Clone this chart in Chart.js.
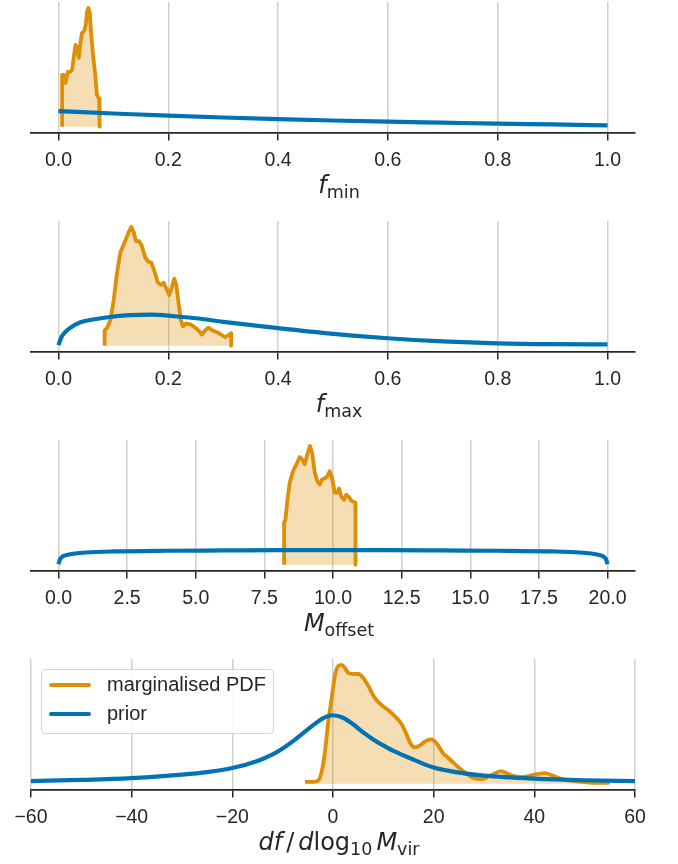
<!DOCTYPE html>
<html>
<head>
<meta charset="utf-8">
<script src="https://cdn.jsdelivr.net/npm/chart.js@4.4.1/dist/chart.umd.min.js"></script>
<style>
  html, body { margin: 0; padding: 0; background: #fff; }
  #wrap { position: relative; width: 678px; height: 864px; overflow: hidden; }
  #wrap canvas { position: absolute; left: 0; }
  .xlabel {
    position: absolute; left: 0; width: 678px; text-align: center;
    font-family: "DejaVu Sans", sans-serif; font-size: 24px; color: #262626;
    line-height: 1; white-space: nowrap;
  }
  .xlabel sub { font-size: 17.5px; vertical-align: -5px; }
  .xlabel i { font-style: oblique; }
  .xlabel .gap { display: inline-block; width: 4px; }
  #legend {
    position: absolute; left: 41px; top: 669px; width: 231px; height: 63px;
    border: 1px solid #d4d4d4; border-radius: 4px; background: rgba(255,255,255,0.85);
    font-family: "Liberation Sans", Arial, sans-serif; font-size: 20px; color: #262626;
  }
  .row { position: absolute; left: 0; height: 24px; }
  .swatch { position: absolute; left: 7px; top: 10px; width: 42px; height: 4px; border-radius: 2px; }
  .row span.txt { position: absolute; left: 65px; top: 0px; white-space: nowrap; }
</style>
</head>
<body>
<div id="wrap">
  <canvas id="c1" width="678" height="180" style="top:0px"></canvas>
  <canvas id="c2" width="678" height="180" style="top:219px"></canvas>
  <canvas id="c3" width="678" height="180" style="top:438px"></canvas>
  <canvas id="c4" width="678" height="180" style="top:657px"></canvas>

  <div class="xlabel" style="top:173px"><i>f</i><sub>min</sub></div>
  <div class="xlabel" style="top:392px"><i>f</i><sub>max</sub></div>
  <div class="xlabel" style="top:611px"><i>M</i><sub>offset</sub></div>
  <div class="xlabel" style="top:830px"><i>df</i><span class="gap"></span>/<span class="gap"></span><i>d</i>log<sub>10</sub><span class="gap"></span><i>M</i><sub>vir</sub></div>

  <div id="legend">
    <div class="row" style="top:3px"><div class="swatch" style="background:#DE8F05"></div><span class="txt">marginalised PDF</span></div>
    <div class="row" style="top:32px"><div class="swatch" style="background:#0173B2"></div><span class="txt">prior</span></div>
  </div>
</div>

<script>
// f_min
const fMinPdfX = [0.0067, 0.0067, 0.0097, 0.0127, 0.017, 0.0218, 0.025, 0.028, 0.031, 0.034, 0.037, 0.040, 0.043, 0.047, 0.0497, 0.052, 0.0545, 0.057, 0.0594, 0.063, 0.067, 0.070, 0.074, 0.075, 0.075];
const fMinPdfY = [0, 52, 52, 44, 55, 55, 57, 70, 82, 80, 69, 84, 94, 96, 102, 115, 119, 114, 94, 72, 52, 32, 28, 27, 0];
const fMinPriorX = [0, 0.1, 0.2, 0.3, 0.4, 0.5, 0.6, 0.7, 0.8, 0.9, 1.0];
const fMinPriorY = [15.5, 13.2, 11, 9.2, 7.6, 6.2, 5, 4, 3, 2.2, 1.3];

// f_max
const fMaxPdfX = [0.084, 0.084, 0.0885, 0.0945, 0.1006, 0.1067, 0.1127, 0.1206, 0.128, 0.1327, 0.137, 0.1412, 0.147, 0.152, 0.158, 0.163, 0.169, 0.175, 0.181, 0.187, 0.1915, 0.1976, 0.2018, 0.2067, 0.211, 0.2145, 0.2188, 0.223, 0.2267, 0.232, 0.24, 0.248, 0.255, 0.261, 0.267, 0.273, 0.2806, 0.2885, 0.296, 0.3036, 0.3085, 0.3145, 0.3145];
const fMaxPdfY = [0, 15, 17.7, 25, 45, 72, 92, 102, 112, 117, 112, 103, 103, 98, 87, 83, 82, 73, 62, 60, 62, 55, 50, 58, 66, 60, 42, 25, 19, 22, 21, 18.3, 15, 11, 15, 17.7, 15, 13.3, 11, 8.3, 10, 12.3, 0];
const fMaxPriorX = [0, 0.005, 0.01, 0.02, 0.04, 0.06, 0.09, 0.13, 0.17, 0.21, 0.25, 0.3, 0.4, 0.5, 0.6, 0.7, 0.8, 0.9, 1.0];
const fMaxPriorY = [0.5, 8, 12, 17, 23, 25.5, 28, 30, 30.5, 29, 27, 23.5, 17.3, 11.7, 7.3, 4.2, 2.3, 1.5, 1.3];

// M_offset
const mOffPdfX = [8.218, 8.218, 8.267, 8.34, 8.424, 8.545, 8.667, 8.788, 8.873, 8.97, 9.067, 9.164, 9.248, 9.333, 9.43, 9.515, 9.6, 9.697, 9.794, 9.879, 9.964, 10.06, 10.16, 10.22, 10.3, 10.4, 10.48, 10.57, 10.67, 10.76, 10.82, 10.82];
const mOffPdfY = [0, 42, 44, 64, 81, 92, 99, 106, 104, 99, 109, 117, 109, 91, 82, 79, 84, 85, 87, 92, 86, 71, 71, 75, 67, 64, 69, 67, 63, 62, 61, 0];
const mOffPriorX = [0, 0.05, 0.15, 0.3, 0.6, 1, 2, 4, 6, 8, 10, 12, 14, 16, 18, 19, 19.4, 19.7, 19.85, 19.95, 20];
const mOffPriorY = [0.5, 5, 8, 9.5, 11, 12, 13, 13.7, 14, 14.3, 14.4, 14.3, 14, 13.7, 13, 12, 11, 9.5, 8, 5, 0.5];

// df/dlog10 Mvir
const mvirPdfX = [-5.56, -3.9, -2.9, -2.25, -1.59, -0.93, -0.26, 0.4, 1.06, 1.72, 2.38, 3.05, 4.04, 5.03, 6.03, 7.02, 8.35, 9.67, 11, 12.3, 13.65, 14.6, 15.5, 16.3, 17.3, 18.3, 19.5, 20.6, 21.9, 22.6, 23.9, 25.2, 26.5, 28, 29.5, 31.5, 33.3, 35.3, 37.5, 38.8, 40.5, 42.1, 44.4, 46, 48, 50, 52.4, 55];
const mvirPdfY = [1.7, 1.7, 3.3, 12, 32, 62, 85, 108, 117, 118, 115, 110, 109, 109, 105, 97, 85, 78, 73, 67, 59, 49, 39, 36, 38, 42, 44, 40, 30, 27, 21, 15, 10, 5.5, 4.5, 8.5, 12.5, 8.5, 6.5, 7.5, 9.5, 10.5, 6.5, 4, 2.5, 1.5, 0.8, 1];
const mvirPriorX = [-60, -50, -40, -30, -25, -20, -15, -12, -10, -8, -6, -4, -2, 0, 2, 4, 6, 8, 10, 12, 15, 20, 25, 30, 40, 50, 60];
const mvirPriorY = [2.6, 3.7, 5.5, 9, 11.5, 15.5, 22.5, 29, 35, 42, 50, 58, 65, 68, 65.5, 59, 51, 44, 38, 32.5, 26, 16, 11, 8, 5, 3.4, 2.6];

const fTicks = [0, 0.2, 0.4, 0.6, 0.8, 1.0];
const mOffTicks = [0, 2.5, 5, 7.5, 10, 12.5, 15, 17.5, 20];
const mvirTicks = [-60, -40, -20, 0, 20, 40, 60];

const ORANGE = '#DE8F05';
const BLUE = '#0173B2';
const INK = '#262626';

const pts = (xs, ys) => xs.map((x, i) => ({ x: x, y: ys[i] }));

function panel(id, pdf, prior, xmin, xmax, ticks, fmt, smoothPdf) {
  const peak = Math.max(...pdf[1], ...prior[1]);
  return new Chart(document.getElementById(id), {
    type: 'line',
    data: {
      datasets: [
        {
          label: 'marginalised PDF',
          data: pts(pdf[0], pdf[1]),
          borderColor: ORANGE,
          backgroundColor: 'rgba(222,143,5,0.3)',
          borderWidth: 3.8,
          fill: 'origin',
          tension: 0,
          cubicInterpolationMode: smoothPdf ? 'monotone' : 'default',
          borderJoinStyle: 'round',
          pointRadius: 0,
          order: 1
        },
        {
          label: 'prior',
          data: pts(prior[0], prior[1]),
          borderColor: BLUE,
          borderWidth: 4.2,
          fill: false,
          cubicInterpolationMode: 'monotone',
          borderJoinStyle: 'round',
          pointRadius: 0,
          order: 0
        }
      ]
    },
    options: {
      responsive: false,
      animation: false,
      devicePixelRatio: 1,
      layout: { padding: { left: 31, right: 43, top: 2, bottom: 0 } },
      plugins: { legend: { display: false }, tooltip: { enabled: false } },
      scales: {
        x: {
          type: 'linear',
          min: xmin,
          max: xmax,
          afterBuildTicks: s => { s.ticks = ticks.map(v => ({ value: v })); },
          grid: {
            color: '#cfcfcf',
            lineWidth: 1.5,
            tickColor: INK,
            tickWidth: 1.5,
            tickLength: 8
          },
          border: { display: true, color: INK, width: 1.8 },
          ticks: {
            color: INK,
            padding: 8,
            maxRotation: 0,
            autoSkip: false,
            font: { family: '"Liberation Sans", Arial, sans-serif', size: 19.5 },
            callback: v => fmt(v)
          }
        },
        y: {
          display: false,
          min: -0.05 * peak,
          max: 1.05 * peak
        }
      }
    }
  });
}

const oneDp = v => v.toFixed(1);
const signed = v => (v < 0 ? '\u2212' + Math.abs(v) : String(v));

panel('c1', [fMinPdfX, fMinPdfY], [fMinPriorX, fMinPriorY], -0.05, 1.05, fTicks, oneDp, false);
panel('c2', [fMaxPdfX, fMaxPdfY], [fMaxPriorX, fMaxPriorY], -0.05, 1.05, fTicks, oneDp, false);
panel('c3', [mOffPdfX, mOffPdfY], [mOffPriorX, mOffPriorY], -1, 21, mOffTicks, oneDp, false);
panel('c4', [mvirPdfX, mvirPdfY], [mvirPriorX, mvirPriorY], -60, 60, mvirTicks, signed, true);
</script>
</body>
</html>
